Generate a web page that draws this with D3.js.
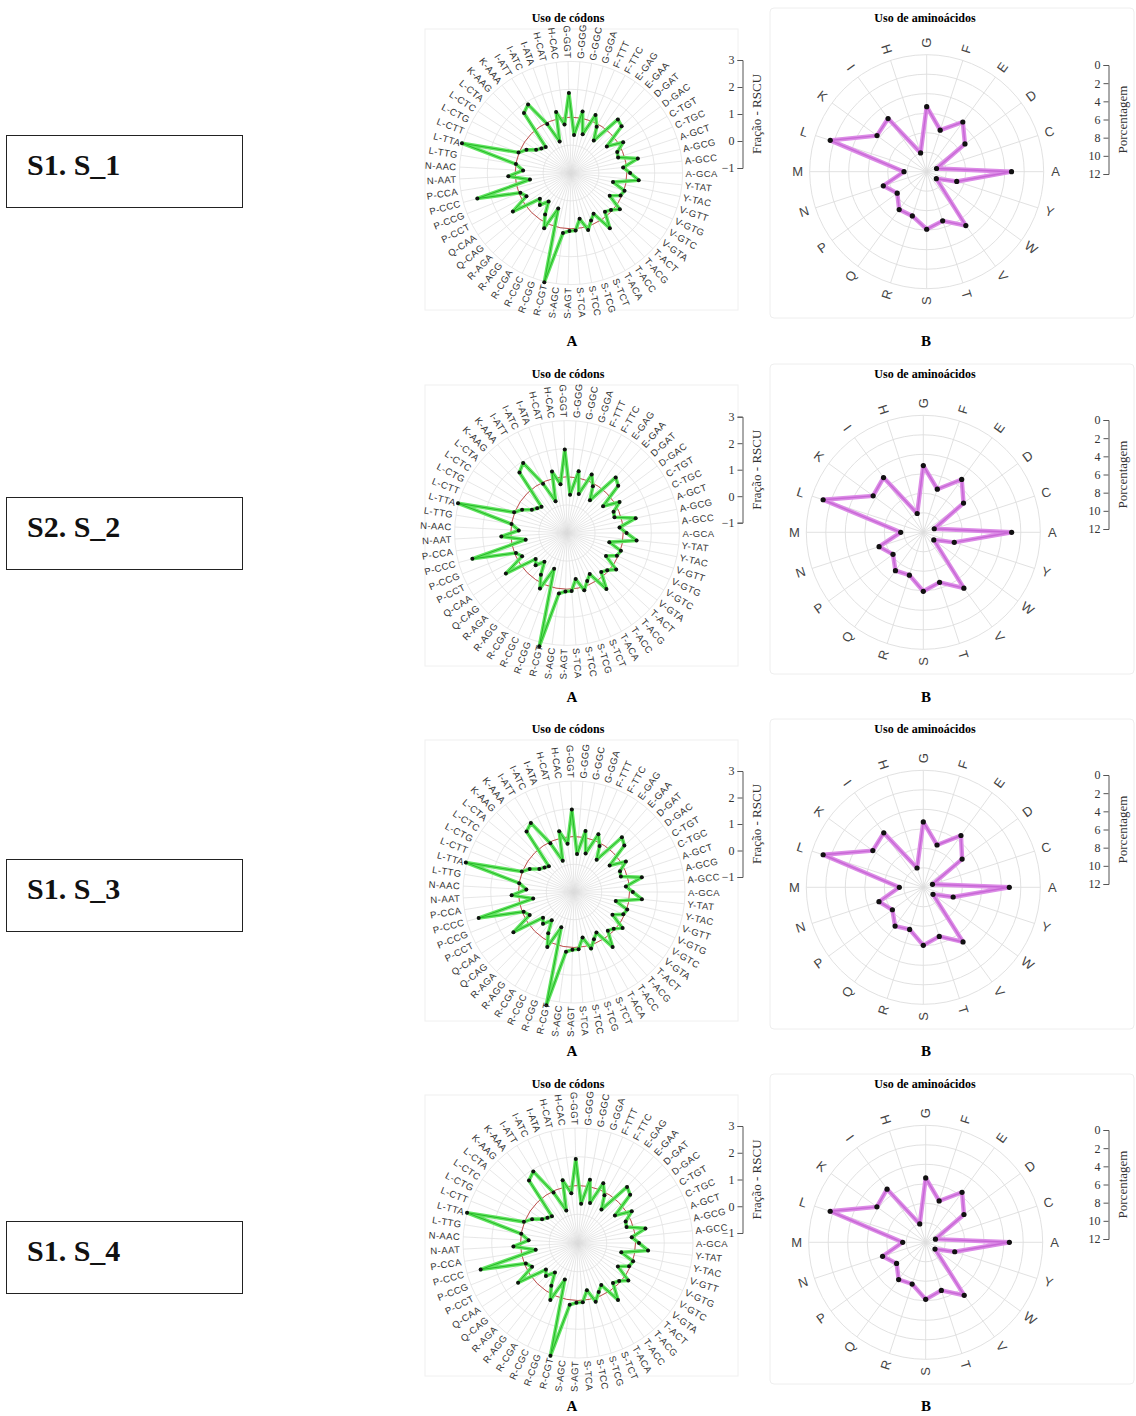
<!DOCTYPE html>
<html lang="pt">
<head>
<meta charset="UTF-8">
<title>Uso de códons e aminoácidos</title>
<script src="https://d3js.org/d3.v7.min.js"></script>
<style>
  body { margin: 0; background: #fff; }
  svg { display: block; }
  .serif { font-family: "Liberation Serif", "Times New Roman", serif; }
  .sans { font-family: "Liberation Sans", Arial, sans-serif; }
  .axis path, .axis line { stroke: #555; }
  .axis text { font-family: "Liberation Serif", "Times New Roman", serif; font-size: 12px; fill: #333; }
</style>
</head>
<body>
<svg id="fig" width="1136" height="1416"></svg>
<script>
// ---- data ----
const codonLabels = ["G-GGT","G-GGG","G-GGC","G-GGA","F-TTT","F-TTC","E-GAG","E-GAA","D-GAT","D-GAC",
  "C-TGT","C-TGC","A-GCT","A-GCG","A-GCC","A-GCA","Y-TAT","Y-TAC","V-GTT","V-GTG","V-GTC","V-GTA",
  "T-ACT","T-ACG","T-ACC","T-ACA","S-TCT","S-TCG","S-TCC","S-TCA","S-AGT","S-AGC","R-CGT","R-CGG",
  "R-CGC","R-CGA","R-AGG","R-AGA","Q-CAG","Q-CAA","P-CCT","P-CCG","P-CCC","P-CCA","N-AAT","N-AAC",
  "L-TTG","L-TTA","L-CTT","L-CTG","L-CTC","L-CTA","K-AAG","K-AAA","I-ATT","I-ATC","I-ATA","H-CAT","H-CAC"];

const rscu1 = [1.87,0.37,1.24,0.45,1.26,0.9,0.42,1.55,1.47,0.6,1.17,0.82,0.78,1.45,0.88,1.12,1.44,0.54,1.02,0.95,
  0.61,1.18,0.95,0.85,1.42,0.67,0.85,1.13,0.67,1.07,1.08,1.17,3.03,0.35,1.2,0.75,0.3,0.6,0.45,1.5,
  0.8,0.95,2.48,0.49,1.25,0.72,1.0,3.05,1.02,0.8,0.5,0.38,0.3,1.73,1.9,0.95,0.2,1.25,0.75];
const rscu2 = [1.97,0.37,1.24,0.45,1.26,0.9,0.42,1.63,1.48,0.6,1.17,0.82,0.78,1.5,0.88,1.12,1.49,0.54,1.02,0.95,
  0.61,1.18,0.95,0.85,1.44,0.67,0.85,1.13,0.67,1.07,1.08,1.17,3.15,0.35,1.2,0.75,0.3,0.6,0.45,1.61,
  0.8,0.95,2.49,0.49,1.34,0.72,1.0,3.02,1.02,0.8,0.5,0.38,0.3,1.74,1.94,0.95,0.2,1.25,0.75];
const rscu3 = [1.97,0.37,1.24,0.45,1.26,0.9,0.42,1.62,1.47,0.6,1.17,0.82,0.78,1.5,0.88,1.12,1.46,0.54,1.02,0.95,
  0.61,1.18,0.95,0.85,1.42,0.67,0.85,1.13,0.67,1.07,1.08,1.17,3.2,0.35,1.2,0.75,0.3,0.6,0.45,1.62,
  0.8,0.95,2.56,0.49,1.25,0.72,1.0,3.04,1.02,0.8,0.5,0.38,0.3,1.77,1.93,0.95,0.2,1.25,0.75];
const rscu4 = [1.92,0.37,1.24,0.45,1.26,0.9,0.42,1.59,1.47,0.6,1.17,0.82,0.78,1.4,0.88,1.12,1.45,0.54,1.02,0.95,
  0.61,1.18,0.95,0.85,1.42,0.67,0.85,1.13,0.67,1.07,1.08,1.17,3.04,0.35,1.2,0.75,0.3,0.6,0.45,1.5,
  0.8,0.95,2.51,0.49,1.25,0.72,1.0,3.0,1.02,0.8,0.5,0.38,0.3,1.76,1.93,0.95,0.2,1.25,0.75];

const aminoLabels = ["G","F","E","D","C","A","Y","W","V","T","S","R","Q","P","N","M","L","K","I","H"];
const amino1 = [6.67,4.48,6.3,4.85,1.06,8.7,3.24,1.22,6.83,5.3,5.9,4.77,4.8,3.74,4.68,2.33,10.4,6.3,6.74,2.03];
const amino2 = [6.84,4.65,6.7,5.1,1.18,9.06,3.34,1.33,7.08,5.4,6.05,4.62,4.86,3.84,4.77,2.32,10.8,6.36,6.94,2.03];
const amino3 = [6.7,4.56,6.57,4.92,0.99,8.82,3.22,1.23,6.93,5.3,5.95,4.54,4.92,3.92,4.78,2.46,10.8,6.4,6.9,2.08];
const amino4 = [6.6,4.46,6.34,4.85,1.05,8.58,3.13,1.18,6.72,5.19,5.85,4.5,4.72,3.69,4.65,2.36,10.3,6.19,6.74,1.98];

const panelNames = ["S1. S_1", "S2. S_2", "S1. S_3", "S1. S_4"];
const rscuTicks = [-1, 0, 1, 2, 3];
const pctTicks = [0, 2, 4, 6, 8, 10, 12];
const codonTitle = "Uso de códons";
const aminoTitle = "Uso de aminoácidos";

// ---- layout of each row (pasted panels are not perfectly aligned) ----
const layout = [
  { title: 18,   codon: [571, 173, 27.9],  amino: [926.7, 171.7],  rscuAxis: [60, 168],    pctAxis: [65, 174],    box: 135,  letter: 341 },
  { title: 374,  codon: [567, 533, 28.1],  amino: [923.3, 532.3],  rscuAxis: [416.7, 522.7], pctAxis: [420, 529], box: 497,  letter: 697 },
  { title: 729,  codon: [574, 892, 27.75], amino: [923.3, 887.3],  rscuAxis: [771, 877],   pctAxis: [775, 884],   box: 859,  letter: 1051 },
  { title: 1084, codon: [578, 1243, 28.75], amino: [925.7, 1242.3], rscuAxis: [1126, 1233], pctAxis: [1130, 1239], box: 1221, letter: 1406 }
];
const rscuSets = [rscu1, rscu2, rscu3, rscu4];
const aminoSets = [amino1, amino2, amino3, amino4];

const svg = d3.select("#fig");
const toRad = a => a * Math.PI / 180;

function labelTransform(x, y, deg) {
    const a = ((deg % 360) + 360) % 360;
    const rot = a < 180 ? a - 90 : a + 90;
    return `translate(${x},${y}) rotate(${rot})`;
}

function drawCodon(k) {
    const L = layout[k];
    const [cx, cy, unit] = L.codon;
    const data = rscuSets[k];
    const n = codonLabels.length;
    const r = d3.scaleLinear().domain([-1, 3]).range([0, 4 * unit]);
    const ang = d3.scaleLinear().domain([0, n]).range([-0.25 * 360 / n, 360 - 0.25 * 360 / n]);
    const rMax = r(3);

    // faint frame
    const t = L.title;
    svg.append("rect").attr("x", 425).attr("y", t + 11).attr("width", 313).attr("height", 281)
        .attr("fill", "none").attr("stroke", "#f0f0f0");

    svg.append("text").attr("class", "serif").attr("x", 568).attr("y", t + 4)
        .attr("text-anchor", "middle").attr("font-size", 12).attr("font-weight", "bold").text(codonTitle);

    const g = svg.append("g").attr("transform", `translate(${cx},${cy})`);

    // spokes
    g.selectAll("line.spoke").data(codonLabels).enter().append("line")
        .attr("x1", 0).attr("y1", 0)
        .attr("x2", (d, i) => rMax * Math.sin(toRad(ang(i))))
        .attr("y2", (d, i) => -rMax * Math.cos(toRad(ang(i))))
        .attr("stroke", "#dcdcdc").attr("stroke-width", 0.7);

    // rings
    g.selectAll("circle.ring").data([0, 1, 2, 3]).enter().append("circle")
        .attr("r", d => r(d)).attr("fill", "none").attr("stroke", "#e2e2e2").attr("stroke-width", 0.8);

    // reference circle RSCU = 1
    g.append("circle").attr("r", r(1)).attr("fill", "none").attr("stroke", "#c0504d").attr("stroke-width", 1);

    const line = d3.lineRadial()
        .angle((d, i) => toRad(ang(i)))
        .radius(d => r(d))
        .curve(d3.curveLinearClosed);

    g.append("path").attr("d", line(data)).attr("fill", "none")
        .attr("stroke", "#62e462").attr("stroke-width", 3.6).attr("stroke-linejoin", "round");
    g.append("path").attr("d", line(data)).attr("fill", "none")
        .attr("stroke", "#25b825").attr("stroke-width", 1).attr("stroke-linejoin", "round");

    g.selectAll("circle.pt").data(data).enter().append("circle")
        .attr("cx", (d, i) => r(d) * Math.sin(toRad(ang(i))))
        .attr("cy", (d, i) => -r(d) * Math.cos(toRad(ang(i))))
        .attr("r", 2).attr("fill", "#111");

    // labels
    const rl = rMax + 3;
    g.selectAll("text.lab").data(codonLabels).enter().append("text")
        .attr("class", "sans")
        .attr("transform", (d, i) => labelTransform(rl * Math.sin(toRad(ang(i))), -rl * Math.cos(toRad(ang(i))), ang(i)))
        .attr("text-anchor", (d, i) => { const a = ((ang(i) % 360) + 360) % 360; return a < 180 ? "start" : "end"; })
        .attr("dominant-baseline", "central")
        .attr("font-size", 9.5).attr("letter-spacing", 0.4).attr("fill", "#333")
        .text(d => d);

    // legend axis
    const ys = d3.scaleLinear().domain([-1, 3]).range([L.rscuAxis[1], L.rscuAxis[0]]);
    svg.append("g").attr("class", "axis").attr("transform", "translate(742.5,0)")
        .call(d3.axisLeft(ys).tickValues(rscuTicks).tickFormat(d3.format("d")).tickSize(5));
    const my = (L.rscuAxis[0] + L.rscuAxis[1]) / 2;
    svg.append("text").attr("class", "serif").attr("font-size", 13).attr("fill", "#333")
        .attr("text-anchor", "middle")
        .attr("transform", `translate(761,${my}) rotate(-90)`).text("Fração - RSCU");

    svg.append("text").attr("class", "serif").attr("x", 572).attr("y", L.letter + 5)
        .attr("text-anchor", "middle").attr("font-size", 15).attr("font-weight", "bold").text("A");
}

function drawAmino(k) {
    const L = layout[k];
    const [cx, cy] = L.amino;
    const data = aminoSets[k];
    const n = aminoLabels.length;
    const r = d3.scaleLinear().domain([0, 12]).range([0, 117]);
    const ang = d3.scaleLinear().domain([0, n]).range([0, 360]);
    const rMax = r(12);
    const t = L.title;

    svg.append("rect").attr("x", 770).attr("y", t - 10).attr("width", 364).attr("height", 310)
        .attr("rx", 4).attr("fill", "none").attr("stroke", "#eeeeee");

    svg.append("text").attr("class", "serif").attr("x", 925).attr("y", t + 4)
        .attr("text-anchor", "middle").attr("font-size", 12).attr("font-weight", "bold").text(aminoTitle);

    const g = svg.append("g").attr("transform", `translate(${cx},${cy})`);

    g.selectAll("circle.ring").data(pctTicks.slice(1)).enter().append("circle")
        .attr("r", d => r(d)).attr("fill", "none").attr("stroke", "#dedede").attr("stroke-width", 0.9);

    g.selectAll("line.spoke").data(aminoLabels).enter().append("line")
        .attr("x1", 0).attr("y1", 0)
        .attr("x2", (d, i) => rMax * Math.sin(toRad(ang(i))))
        .attr("y2", (d, i) => -rMax * Math.cos(toRad(ang(i))))
        .attr("stroke", "#dedede").attr("stroke-width", 0.9);

    const line = d3.lineRadial()
        .angle((d, i) => toRad(ang(i)))
        .radius(d => r(d))
        .curve(d3.curveLinearClosed);

    g.append("path").attr("d", line(data)).attr("fill", "none")
        .attr("stroke", "#dc8ce6").attr("stroke-width", 4.4).attr("stroke-linejoin", "round");
    g.append("path").attr("d", line(data)).attr("fill", "none")
        .attr("stroke", "#c867d6").attr("stroke-width", 1.4).attr("stroke-linejoin", "round");

    g.selectAll("circle.pt").data(data).enter().append("circle")
        .attr("cx", (d, i) => r(d) * Math.sin(toRad(ang(i))))
        .attr("cy", (d, i) => -r(d) * Math.cos(toRad(ang(i))))
        .attr("r", 2.6).attr("fill", "#111");

    const rl = 129;
    g.selectAll("text.lab").data(aminoLabels).enter().append("text")
        .attr("class", "sans")
        .attr("transform", (d, i) => labelTransform(rl * Math.sin(toRad(ang(i))), -rl * Math.cos(toRad(ang(i))), ang(i)))
        .attr("text-anchor", "middle").attr("dominant-baseline", "central")
        .attr("font-size", 13).attr("fill", "#444")
        .text(d => d);

    const ys = d3.scaleLinear().domain([0, 12]).range([L.pctAxis[0], L.pctAxis[1]]);
    svg.append("g").attr("class", "axis").attr("transform", "translate(1108.5,0)")
        .call(d3.axisLeft(ys).tickValues(pctTicks).tickFormat(d3.format("d")).tickSize(5));
    const my = (L.pctAxis[0] + L.pctAxis[1]) / 2;
    svg.append("text").attr("class", "serif").attr("font-size", 13).attr("fill", "#333")
        .attr("text-anchor", "middle")
        .attr("transform", `translate(1127,${my}) rotate(-90)`).text("Porcentagem");

    svg.append("text").attr("class", "serif").attr("x", 926).attr("y", L.letter + 5)
        .attr("text-anchor", "middle").attr("font-size", 15).attr("font-weight", "bold").text("B");
}

function drawBox(k) {
    const y = layout[k].box;
    svg.append("rect").attr("x", 6.5).attr("y", y + 0.5).attr("width", 236).attr("height", 72)
        .attr("fill", "none").attr("stroke", "#222").attr("stroke-width", 1);
    svg.append("text").attr("class", "serif").attr("x", 27).attr("y", y + 40)
        .attr("font-size", 30).attr("font-weight", "bold").attr("fill", "#111").text(panelNames[k]);
}

layout.forEach((d, k) => {
    drawCodon(k);
    drawAmino(k);
    drawBox(k);
});
</script>
</body>
</html>
